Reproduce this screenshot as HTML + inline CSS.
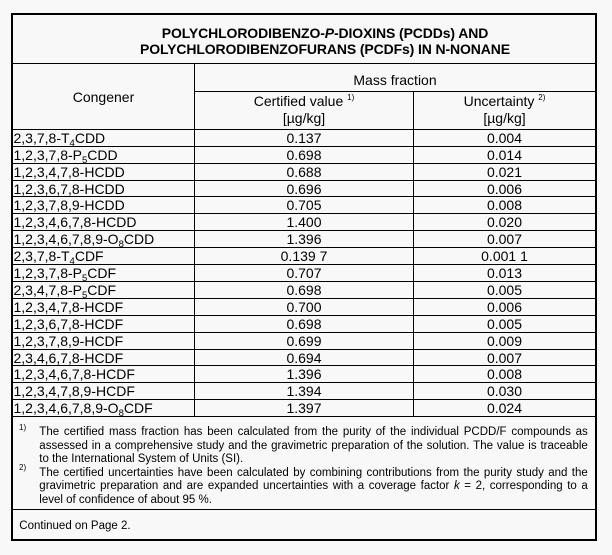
<!DOCTYPE html>
<html>
<head>
<meta charset="utf-8">
<style>
  html,body{margin:0;padding:0;}
  body{width:612px;height:555px;overflow:hidden;background:#f8f8f8;position:relative;
       font-family:"Liberation Sans",Arial,sans-serif;color:#000;}
  .a{position:absolute;}
  .hl{position:absolute;height:1px;background:#000;}
  .vl{position:absolute;width:1px;background:#000;}
  .t{position:absolute;white-space:nowrap;font-size:14px;line-height:16px;}
  .title{font-weight:bold;letter-spacing:-0.12px;text-align:center;}
  .row{position:absolute;height:16.9px;line-height:16.9px;font-size:14px;white-space:nowrap;}
  .c1{left:13.5px;}
  .c2{left:195px;width:218px;text-align:center;}
  .c3{left:414px;width:181px;text-align:center;}
  sub{font-size:9.5px;vertical-align:-3px;line-height:0;}
  .sup{font-size:8px;vertical-align:6px;line-height:0;}
  .fn{position:absolute;left:39.3px;width:548.5px;font-size:11.5px;line-height:13.6px;white-space:normal;}
  .j{text-align:justify;text-align-last:justify;}
  .mk{position:absolute;left:19px;font-size:8px;line-height:8px;}
</style>
</head>
<body>
<!-- outer border -->
<div class="a" style="left:11px;top:13px;width:582px;height:524px;border:2px solid #000;"></div>

<!-- inner lines -->
<div class="hl" style="left:13px;top:63px;width:582px;"></div>
<div class="hl" style="left:194px;top:91px;width:401px;"></div>
<div class="hl" style="left:13px;top:129px;width:582px;"></div>
<div class="vl" style="left:194px;top:63px;height:354px;"></div>
<div class="vl" style="left:413px;top:91px;height:326px;"></div>

<div class="hl" style="left:13px;top:146px;width:582px;"></div>
<div class="hl" style="left:13px;top:163px;width:582px;"></div>
<div class="hl" style="left:13px;top:180px;width:582px;"></div>
<div class="hl" style="left:13px;top:196px;width:582px;"></div>
<div class="hl" style="left:13px;top:213px;width:582px;"></div>
<div class="hl" style="left:13px;top:230px;width:582px;"></div>
<div class="hl" style="left:13px;top:247px;width:582px;"></div>
<div class="hl" style="left:13px;top:264px;width:582px;"></div>
<div class="hl" style="left:13px;top:281px;width:582px;"></div>
<div class="hl" style="left:13px;top:298px;width:582px;"></div>
<div class="hl" style="left:13px;top:315px;width:582px;"></div>
<div class="hl" style="left:13px;top:332px;width:582px;"></div>
<div class="hl" style="left:13px;top:349px;width:582px;"></div>
<div class="hl" style="left:13px;top:365px;width:582px;"></div>
<div class="hl" style="left:13px;top:382px;width:582px;"></div>
<div class="hl" style="left:13px;top:399px;width:582px;"></div>
<div class="hl" style="left:13px;top:416px;width:582px;"></div>
<div class="hl" style="left:13px;top:509px;width:582px;"></div>

<!-- title -->
<div class="t title" style="left:125px;width:400px;top:24.5px;">POLYCHLORODIBENZO-<i>P</i>-DIOXINS (PCDDs) AND</div>
<div class="t title" style="left:125px;width:400px;top:40.5px;">POLYCHLORODIBENZOFURANS (PCDFs) IN N-NONANE</div>

<!-- header -->
<div class="t" style="left:13px;width:181px;text-align:center;top:89px;">Congener</div>
<div class="t" style="left:195px;width:400px;text-align:center;top:71.7px;">Mass fraction</div>
<div class="t" style="left:195px;width:218px;text-align:center;top:92.9px;">Certified value <span class="sup">1)</span></div>
<div class="t" style="left:195px;width:218px;text-align:center;top:109.5px;">[µg/kg]</div>
<div class="t" style="left:414px;width:181px;text-align:center;top:92.9px;">Uncertainty <span class="sup">2)</span></div>
<div class="t" style="left:414px;width:181px;text-align:center;top:109.5px;">[µg/kg]</div>

<!-- rows -->
<div class="row c1" style="top:129.8px;">2,3,7,8-T<sub>4</sub>CDD</div>
<div class="row c2" style="top:129.8px;">0.137</div>
<div class="row c3" style="top:129.8px;">0.004</div>

<div class="row c1" style="top:146.7px;">1,2,3,7,8-P<sub>5</sub>CDD</div>
<div class="row c2" style="top:146.7px;">0.698</div>
<div class="row c3" style="top:146.7px;">0.014</div>

<div class="row c1" style="top:163.6px;">1,2,3,4,7,8-HCDD</div>
<div class="row c2" style="top:163.6px;">0.688</div>
<div class="row c3" style="top:163.6px;">0.021</div>

<div class="row c1" style="top:180.5px;">1,2,3,6,7,8-HCDD</div>
<div class="row c2" style="top:180.5px;">0.696</div>
<div class="row c3" style="top:180.5px;">0.006</div>

<div class="row c1" style="top:197.4px;">1,2,3,7,8,9-HCDD</div>
<div class="row c2" style="top:197.4px;">0.705</div>
<div class="row c3" style="top:197.4px;">0.008</div>

<div class="row c1" style="top:214.3px;">1,2,3,4,6,7,8-HCDD</div>
<div class="row c2" style="top:214.3px;">1.400</div>
<div class="row c3" style="top:214.3px;">0.020</div>

<div class="row c1" style="top:231.2px;">1,2,3,4,6,7,8,9-O<sub>8</sub>CDD</div>
<div class="row c2" style="top:231.2px;">1.396</div>
<div class="row c3" style="top:231.2px;">0.007</div>

<div class="row c1" style="top:248.1px;">2,3,7,8-T<sub>4</sub>CDF</div>
<div class="row c2" style="top:248.1px;">0.139 7</div>
<div class="row c3" style="top:248.1px;">0.001 1</div>

<div class="row c1" style="top:265.0px;">1,2,3,7,8-P<sub>5</sub>CDF</div>
<div class="row c2" style="top:265.0px;">0.707</div>
<div class="row c3" style="top:265.0px;">0.013</div>

<div class="row c1" style="top:281.9px;">2,3,4,7,8-P<sub>5</sub>CDF</div>
<div class="row c2" style="top:281.9px;">0.698</div>
<div class="row c3" style="top:281.9px;">0.005</div>

<div class="row c1" style="top:298.8px;">1,2,3,4,7,8-HCDF</div>
<div class="row c2" style="top:298.8px;">0.700</div>
<div class="row c3" style="top:298.8px;">0.006</div>

<div class="row c1" style="top:315.7px;">1,2,3,6,7,8-HCDF</div>
<div class="row c2" style="top:315.7px;">0.698</div>
<div class="row c3" style="top:315.7px;">0.005</div>

<div class="row c1" style="top:332.6px;">1,2,3,7,8,9-HCDF</div>
<div class="row c2" style="top:332.6px;">0.699</div>
<div class="row c3" style="top:332.6px;">0.009</div>

<div class="row c1" style="top:349.5px;">2,3,4,6,7,8-HCDF</div>
<div class="row c2" style="top:349.5px;">0.694</div>
<div class="row c3" style="top:349.5px;">0.007</div>

<div class="row c1" style="top:366.4px;">1,2,3,4,6,7,8-HCDF</div>
<div class="row c2" style="top:366.4px;">1.396</div>
<div class="row c3" style="top:366.4px;">0.008</div>

<div class="row c1" style="top:383.3px;">1,2,3,4,7,8,9-HCDF</div>
<div class="row c2" style="top:383.3px;">1.394</div>
<div class="row c3" style="top:383.3px;">0.030</div>

<div class="row c1" style="top:400.2px;">1,2,3,4,6,7,8,9-O<sub>8</sub>CDF</div>
<div class="row c2" style="top:400.2px;">1.397</div>
<div class="row c3" style="top:400.2px;">0.024</div>

<!-- footnotes -->
<div class="mk" style="top:424px;">1)</div>
<div class="fn j" style="top:425.9px;">The certified mass fraction has been calculated from the purity of the individual PCDD/F compounds as</div>
<div class="fn j" style="top:439.5px;">assessed in a comprehensive study and the gravimetric preparation of the solution. The value is traceable</div>
<div class="fn" style="top:453.1px;">to the International System of Units (SI).</div>
<div class="mk" style="top:464px;">2)</div>
<div class="fn j" style="top:466.7px;">The certified uncertainties have been calculated by combining contributions from the purity study and the</div>
<div class="fn j" style="top:480.3px;">gravimetric preparation and are expanded uncertainties with a coverage factor <i>k</i> = 2, corresponding to a</div>
<div class="fn" style="top:493.9px;">level of confidence of about 95 %.</div>

<div class="fn" style="left:19.3px;top:519.9px;">Continued on Page 2.</div>
</body>
</html>
